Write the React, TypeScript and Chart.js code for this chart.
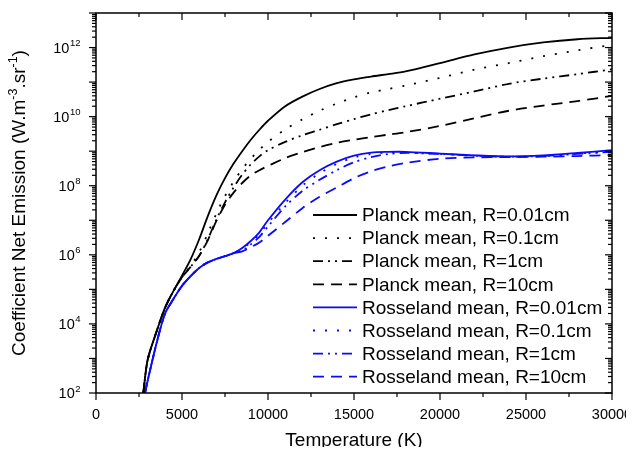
import { useEffect, useRef } from 'react';
import { Chart, registerables } from 'chart.js';

Chart.register(...registerables);

// ---------- data ----------
const planckT = [2750, 3000, 3500, 4000, 4500, 5000, 5500, 6000, 6500, 7000, 7500, 8000, 8500, 9000, 9500, 10000, 11000, 12000, 13000, 14000, 15000, 16000, 17000, 18000, 20000, 22000, 24000, 26000, 28000, 30000];
const rosselandT = [2850, 3000, 3500, 4000, 4500, 5000, 5500, 6000, 6500, 7000, 7500, 8000, 8500, 9000, 9500, 10000, 11000, 12000, 13000, 14000, 15000, 16000, 17000, 18000, 20000, 22000, 24000, 26000, 28000, 30000];

const planck001 = [1e2, 8.91e2, 5.62e3, 2.82e4, 8.91e4, 2.51e5, 7.41e5, 2.82e6, 1.32e7, 5.25e7, 1.66e8, 4.37e8, 1e9, 2.14e9, 4.17e9, 7.59e9, 2.0e10, 3.8e10, 6.31e10, 9.33e10, 1.2e11, 1.45e11, 1.7e11, 2.04e11, 3.55e11, 6.31e11, 1e12, 1.41e12, 1.74e12, 1.91e12];
const planck01 = [1e2, 8.91e2, 5.62e3, 2.82e4, 8.91e4, 2.24e5, 4.79e5, 1.2e6, 4.17e6, 1.58e7, 5.01e7, 1.32e8, 3.02e8, 6.03e8, 1.1e9, 1.86e9, 4.27e9, 8.32e9, 1.48e10, 2.4e10, 3.63e10, 5.01e10, 6.31e10, 7.94e10, 1.32e11, 2.29e11, 3.55e11, 5.62e11, 8.32e11, 1.2e12];
const planck1 = [1e2, 8.91e2, 5.62e3, 2.82e4, 8.91e4, 2.24e5, 4.47e5, 9.33e5, 2.82e6, 1.05e7, 3.31e7, 8.91e7, 2.09e8, 4.17e8, 7.08e8, 1.07e9, 1.86e9, 2.88e9, 4.17e9, 6.03e9, 8.51e9, 1.17e10, 1.55e10, 2.0e10, 3.31e10, 5.37e10, 8.91e10, 1.26e11, 1.7e11, 2.34e11];
const planck10 = [1e2, 8.91e2, 5.62e3, 2.82e4, 8.91e4, 2.24e5, 4.47e5, 9.33e5, 2.63e6, 9.55e6, 2.82e7, 6.31e7, 1.2e8, 2e8, 2.82e8, 3.72e8, 6.31e8, 9.33e8, 1.32e9, 1.74e9, 2.14e9, 2.57e9, 3.02e9, 3.55e9, 5.37e9, 8.91e9, 1.48e10, 2.09e10, 2.82e10, 3.98e10];

const rosseland001 = [1e2, 2.24e2, 2.51e3, 1.91e4, 5.25e4, 1.26e5, 2.4e5, 4.17e5, 6.03e5, 7.59e5, 9.12e5, 1.12e6, 1.58e6, 2.51e6, 4.47e6, 1e7, 3.98e7, 1.26e8, 2.82e8, 5.01e8, 7.41e8, 9.12e8, 9.55e8, 9.55e8, 8.51e8, 7.59e8, 7.08e8, 7.59e8, 8.91e8, 1.07e9];
const rosseland01 = [1e2, 2.24e2, 2.51e3, 1.91e4, 5.25e4, 1.26e5, 2.4e5, 4.17e5, 6.03e5, 7.59e5, 9.12e5, 1.12e6, 1.51e6, 2.34e6, 3.98e6, 8.32e6, 3.16e7, 1e8, 2.29e8, 4.27e8, 6.61e8, 8.32e8, 9.12e8, 9.12e8, 8.32e8, 7.41e8, 6.92e8, 7.24e8, 8.51e8, 1e9];
const rosseland1 = [1e2, 2.24e2, 2.51e3, 1.91e4, 5.25e4, 1.26e5, 2.4e5, 4.17e5, 6.03e5, 7.59e5, 9.12e5, 1.12e6, 1.32e6, 2.0e6, 3.31e6, 6.61e6, 2.51e7, 7.08e7, 1.48e8, 2.82e8, 4.79e8, 6.76e8, 8.32e8, 8.91e8, 8.32e8, 7.41e8, 6.92e8, 7.24e8, 8.32e8, 9.55e8];
const rosseland10 = [1e2, 2.24e2, 2.51e3, 1.91e4, 5.25e4, 1.26e5, 2.4e5, 4.17e5, 6.03e5, 7.59e5, 9.12e5, 1.12e6, 1.26e6, 1.66e6, 2.29e6, 3.55e6, 8.91e6, 2.24e7, 4.79e7, 8.91e7, 1.66e8, 2.63e8, 3.63e8, 4.57e8, 6.03e8, 6.61e8, 6.76e8, 6.92e8, 7.24e8, 7.76e8];

const seriesLabels = [
  'Planck mean, R=0.01cm',
  'Planck mean, R=0.1cm',
  'Planck mean, R=1cm',
  'Planck mean, R=10cm',
  'Rosseland mean, R=0.01cm',
  'Rosseland mean, R=0.1cm',
  'Rosseland mean, R=1cm',
  'Rosseland mean, R=10cm',
];

const xTickValues = [0, 5000, 10000, 15000, 20000, 25000, 30000];
const yTickExponents = [2, 4, 6, 8, 10, 12];
const xTitle = 'Temperature (K)';

// ---------- styles ----------
const FONT = "'Liberation Sans', Arial, sans-serif";
const BLACK = '#000000';
const BLUE = '#0a0aff';
const DASH_SOLID: number[] = [];
const DASH_DOT = [2, 10];
const DASH_DASHDOTDOT = [10, 5, 2, 5, 2, 5];
const DASH_DASH = [11, 7];

function pts(xs: number[], ys: number[]) {
  return xs.map((x, i) => ({ x, y: ys[i] }));
}

const decorPlugin = {
  id: 'decor',
  afterDraw(chart: any) {
    const ctx: CanvasRenderingContext2D = chart.ctx;
    const { left, right, top, bottom } = chart.chartArea;
    const xs = chart.scales.x;
    const ys = chart.scales.y;
    const line = (x1: number, y1: number, x2: number, y2: number) => {
      ctx.beginPath();
      ctx.moveTo(x1, y1);
      ctx.lineTo(x2, y2);
      ctx.stroke();
    };
    ctx.save();
    ctx.strokeStyle = '#000';
    ctx.setLineDash([]);
    ctx.lineWidth = 1.5;
    ctx.strokeRect(left, top, right - left, bottom - top);

    // x ticks (bottom outward, top inward)
    ctx.lineWidth = 1.2;
    for (let v = xs.min; v <= xs.max; v += 2500) {
      const px = xs.getPixelForValue(v);
      const len = v % 5000 === 0 ? 7 : 4;
      line(px, bottom, px, bottom + len);
      line(px, top, px, top + len);
    }
    // y ticks (left outward, right inward)
    for (let e = 2; e <= 13; e++) {
      for (let m = 1; m <= 9; m++) {
        const v = m * Math.pow(10, e);
        if (v > ys.max * 1.0001) break;
        const py = ys.getPixelForValue(v);
        const len = m === 1 ? 7 : 4;
        line(left - len, py, left, py);
        line(right - len, py, right, py);
      }
    }

    // x tick labels
    ctx.fillStyle = '#000';
    ctx.font = `14.5px ${FONT}`;
    ctx.textAlign = 'center';
    ctx.textBaseline = 'alphabetic';
    xTickValues.forEach((v) => {
      ctx.fillText(String(v), xs.getPixelForValue(v), bottom + 25.5);
    });

    // y tick labels 10^n
    yTickExponents.forEach((e) => {
      const py = ys.getPixelForValue(Math.pow(10, e));
      const rightEdge = left - 15.5;
      ctx.font = `9.5px ${FONT}`;
      ctx.textAlign = 'right';
      const ew = ctx.measureText(String(e)).width;
      ctx.fillText(String(e), rightEdge, py - 1.5);
      ctx.font = `14.5px ${FONT}`;
      ctx.fillText('10', rightEdge - ew - 0.5, py + 5.3);
    });

    // x title
    ctx.font = `19px ${FONT}`;
    ctx.textAlign = 'center';
    ctx.fillText(xTitle, (left + right) / 2, bottom + 53);

    // y title (rotated) with superscripts
    const parts: [string, boolean][] = [
      ['Coefficient Net Emission (W.m', false],
      ['-3', true],
      ['.sr', false],
      ['-1', true],
      [')', false],
    ];
    const mainFont = `19px ${FONT}`;
    const supFont = `12.5px ${FONT}`;
    let total = 0;
    const widths = parts.map(([t, sup]) => {
      ctx.font = sup ? supFont : mainFont;
      const w = ctx.measureText(t).width;
      total += w;
      return w;
    });
    ctx.save();
    ctx.translate(17, (top + bottom) / 2);
    ctx.rotate(-Math.PI / 2);
    ctx.textAlign = 'left';
    let cx = -total / 2;
    parts.forEach(([t, sup], i) => {
      ctx.font = sup ? supFont : mainFont;
      ctx.fillText(t, cx, sup ? -8 : 0);
      cx += widths[i];
    });
    ctx.restore();

    // legend
    const rowY0 = 207;
    const rowH = 23.1;
    chart.data.datasets.forEach((ds: any, i: number) => {
      const y = rowY0 + i * rowH;
      ctx.strokeStyle = ds.borderColor;
      ctx.lineWidth = ds.borderWidth;
      ctx.setLineDash(ds.borderDash || []);
      line(305, y, 349, y);
      ctx.setLineDash([]);
      ctx.fillStyle = '#000';
      ctx.font = `19px ${FONT}`;
      ctx.textAlign = 'left';
      ctx.textBaseline = 'middle';
      ctx.fillText(ds.label, 354, y + 1);
    });
    ctx.restore();
  },
};

export default function App() {
  const ref = useRef<HTMLCanvasElement | null>(null);
  useEffect(() => {
    if (!ref.current) return;
    const mk = (label: string, xs: number[], ys: number[], color: string, dash: number[]) => ({
      label,
      data: pts(xs, ys),
      borderColor: color,
      backgroundColor: color,
      borderWidth: 1.8,
      borderDash: dash,
      pointRadius: 0,
      fill: false,
      tension: 0.3,
    });
    const chart = new Chart(ref.current, {
      type: 'line',
      data: {
        datasets: [
          mk(seriesLabels[0], planckT, planck001, BLACK, DASH_SOLID),
          mk(seriesLabels[1], planckT, planck01, BLACK, DASH_DOT),
          mk(seriesLabels[2], planckT, planck1, BLACK, DASH_DASHDOTDOT),
          mk(seriesLabels[3], planckT, planck10, BLACK, DASH_DASH),
          mk(seriesLabels[4], rosselandT, rosseland001, BLUE, DASH_SOLID),
          mk(seriesLabels[5], rosselandT, rosseland01, BLUE, DASH_DOT),
          mk(seriesLabels[6], rosselandT, rosseland1, BLUE, DASH_DASHDOTDOT),
          mk(seriesLabels[7], rosselandT, rosseland10, BLUE, DASH_DASH),
        ],
      },
      options: {
        responsive: false,
        animation: false,
        layout: { padding: { top: 5, right: 14, left: 0, bottom: 0 } },
        plugins: { legend: { display: false }, tooltip: { enabled: false } },
        scales: {
          x: {
            type: 'linear',
            min: 0,
            max: 30000,
            grid: { display: false },
            border: { display: false },
            ticks: { display: false },
            afterFit: (s: any) => { s.height = 54; },
          },
          y: {
            type: 'logarithmic',
            min: 1e2,
            max: 1e13,
            grid: { display: false },
            border: { display: false },
            ticks: { display: false },
            afterFit: (s: any) => { s.width = 88; },
          },
        },
      },
      plugins: [decorPlugin],
    });
    return () => chart.destroy();
  }, []);
  return (
    <div style={{ width: 618, height: 439 }}>
      <canvas ref={ref} width={618} height={439} style={{ display: 'block' }} />
    </div>
  );
}
